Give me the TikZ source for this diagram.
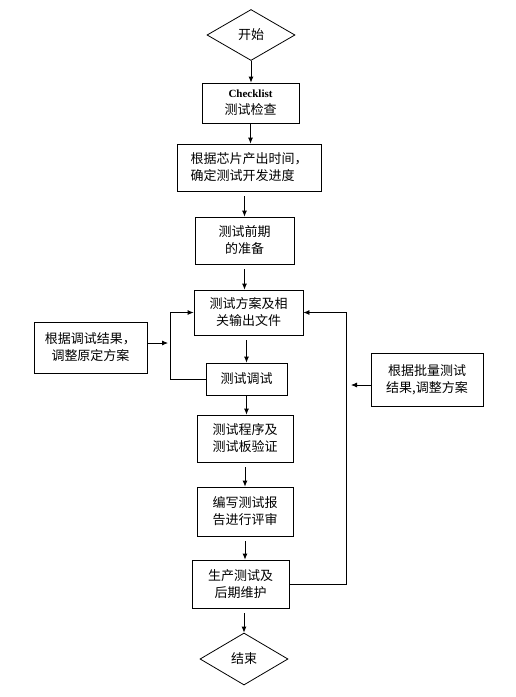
\documentclass[tikz,border=0pt]{standalone}
\usepackage{fontspec}
\usepackage{tikz}
\usetikzlibrary{arrows.meta,shapes.geometric,calc}
\newfontfamily\cjk{Noto Sans CJK SC}
\newfontfamily\latinfont{Liberation Serif}

\begin{document}
\begin{tikzpicture}[
    x=1pt, y=-1pt,
    box/.style={draw=black, line width=0.8pt, inner sep=0pt, align=center, font=\cjk\fontsize{13}{17}\selectfont},
    term/.style={diamond, draw=black, line width=0.8pt, inner sep=0pt, aspect=1.7, minimum width=88pt, minimum height=51pt, font=\cjk\fontsize{13}{17}\selectfont},
    arrow/.style={-{Latex[length=6pt,width=5pt]}, line width=0.8pt, draw=black},
    gap/.style={shorten <=5pt}
]
\useasboundingbox (0,0) rectangle (516,697);
\node[term] (start) at (251,35) {开始};
\node[box, minimum width=97pt, minimum height=40pt] (check) at (250.5,103) {{\latinfont\bfseries\fontsize{11}{14}\selectfont Checklist}\\测试检查};
\node[box, align=left, minimum width=144pt, minimum height=47pt] (time) at (249,167.5) {根据芯片产出时间，\\确定测试开发进度};
\node[box, minimum width=99pt, minimum height=47pt] (prep) at (244.5,240.5) {测试前期\\的准备};
\node[box, minimum width=109pt, minimum height=45pt] (plan) at (248.5,312.5) {测试方案及相\\关输出文件};
\node[box, minimum width=113pt, minimum height=51pt] (adjL) at (90.5,347.5) {根据调试结果，\\调整原定方案};
\node[box, minimum width=81pt, minimum height=32pt] (debug) at (246.5,379) {测试调试};
\node[box, minimum width=112pt, minimum height=53pt] (adjR) at (427,379.5) {根据批量测试\\结果,调整方案};
\node[box, minimum width=96pt, minimum height=47pt] (verify) at (245,438.5) {测试程序及\\测试板验证};
\node[box, minimum width=96pt, minimum height=49pt] (report) at (245,511.5) {编写测试报\\告进行评审};
\node[box, minimum width=97pt, minimum height=48pt] (prod) at (240.5,584) {生产测试及\\后期维护};
\node[term, minimum height=52pt] (end) at (244,659) {结束};
\coordinate (joinL) at (168,343);
\coordinate (joinR) at (351,385);
% main flow
\draw[arrow] (start.south |- start.south) -- (start.south |- check.north);
\draw[arrow] (check) -- (check |- time.north);
\draw[arrow, gap] (prep.north |- time.south) -- (prep.north);
\draw[arrow, gap] (prep) -- (prep |- plan.north);
\draw[arrow, gap] (debug.north |- plan.south) -- (debug.north);
\draw[arrow] (debug) -- (debug |- verify.north);
\draw[arrow, gap] (verify) -- (verify |- report.north);
\draw[arrow, gap] (report) -- (report |- prod.north);
\draw[arrow, gap] (end.north |- prod.south) -- (end.north);
% feedback loops
\draw[arrow] (debug.west) -| ([xshift=-23pt]plan.west) -- (plan.west);
\draw[arrow] (joinL -| adjL.east) -- (joinL);
\draw[arrow] (prod.east) -| ([xshift=43pt]plan.east) -- (plan.east);
\draw[arrow] (joinR -| adjR.west) -- (joinR);
\end{tikzpicture}
\end{document}
